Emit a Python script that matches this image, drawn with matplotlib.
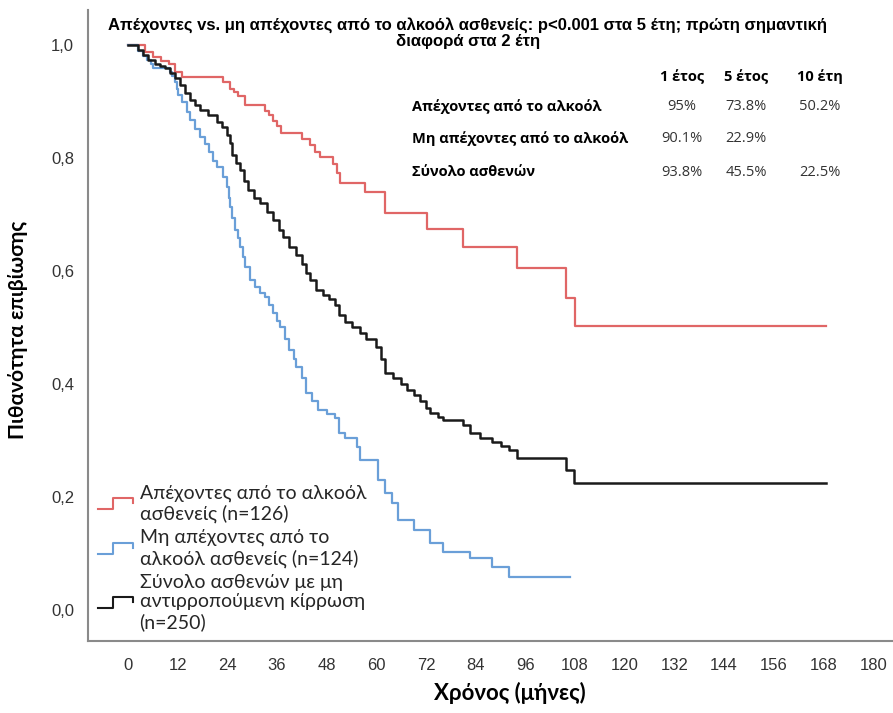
"""
Kaplan-Meier curves: abstainers vs non-abstainers vs all patients.
"""

import matplotlib
matplotlib.use('Agg')
import matplotlib.pyplot as plt
from matplotlib.ticker import FuncFormatter
from matplotlib.legend_handler import HandlerBase
from matplotlib.lines import Line2D

# survival curves (months, survival)
t_abst = [0, 4, 6, 8, 10, 11.4, 13, 23, 24.6, 25.6, 26.6, 28.3, 33, 34, 35,
          36, 37, 42, 44, 45.2, 46.4, 49.5, 50.5, 51.2, 57.3, 62.1, 72.2,
          81, 94, 105.8, 108, 168.5]
s_abst = [1.0, 0.988, 0.979, 0.972, 0.967, 0.953, 0.944, 0.935, 0.923,
          0.916, 0.909, 0.894, 0.884, 0.876, 0.866, 0.856, 0.845, 0.834,
          0.823, 0.811, 0.802, 0.79, 0.773, 0.756, 0.740, 0.702, 0.674,
          0.643, 0.605, 0.553, 0.503, 0.503]

t_nonabst = [0, 2.5, 3.7, 4.5, 5.5, 6.1, 10.1, 10.6, 11.4, 11.8, 12.2, 13,
             14.2, 15, 16.2, 17.4, 18.5, 19.5, 20.5, 21.5, 23, 23.9, 24.3,
             24.6, 25.2, 25.9, 26.5, 27, 27.7, 28.3, 29.5, 30.7, 31.9, 33,
             34, 35, 36, 36.7, 38, 39, 40, 40.7, 42, 43.1, 44.5, 45.8, 48,
             50.1, 51, 52.5, 55.3, 56, 60.4, 62, 63.8, 65.2, 69, 73, 76,
             82.7, 87.9, 92, 106.8]
s_nonabst = [1.0, 0.99, 0.98, 0.973, 0.966, 0.959, 0.952, 0.945, 0.935,
             0.923, 0.912, 0.9, 0.882, 0.867, 0.852, 0.838, 0.825, 0.81,
             0.795, 0.784, 0.766, 0.749, 0.73, 0.713, 0.693, 0.673, 0.658,
             0.643, 0.625, 0.607, 0.584, 0.572, 0.561, 0.554, 0.54, 0.525,
             0.512, 0.5, 0.48, 0.46, 0.445, 0.43, 0.41, 0.384, 0.37, 0.354,
             0.347, 0.34, 0.313, 0.305, 0.289, 0.265, 0.23, 0.207, 0.19,
             0.16, 0.142, 0.118, 0.103, 0.092, 0.076, 0.058, 0.058]

t_all = [0, 2.5, 3.7, 4.9, 6.5, 7.7, 9, 10.1, 11.4, 12.6, 13.8, 15, 16.2,
         17.4, 19.4, 21.4, 22.6, 23.8, 24.6, 25.2, 26, 27, 28, 29, 30.5, 32,
         33.5, 35, 36.5, 37.5, 39, 40.5, 42, 43, 44, 45.5, 47, 48.5, 50, 51,
         52.5, 54, 56, 57.5, 60, 61, 62, 64, 66, 67.5, 69, 70.5, 72, 73, 75,
         76, 81, 82.7, 85, 88, 90, 92, 94, 105.7, 107.8, 168.5]
s_all = [1.0, 0.991, 0.982, 0.973, 0.967, 0.962, 0.959, 0.95, 0.941, 0.929,
         0.915, 0.903, 0.894, 0.885, 0.876, 0.864, 0.855, 0.841, 0.826,
         0.805, 0.792, 0.779, 0.76, 0.743, 0.73, 0.72, 0.705, 0.69, 0.673,
         0.66, 0.643, 0.628, 0.612, 0.596, 0.584, 0.566, 0.558, 0.55, 0.54,
         0.522, 0.51, 0.5, 0.49, 0.48, 0.466, 0.445, 0.42, 0.41, 0.4, 0.389,
         0.38, 0.37, 0.358, 0.348, 0.342, 0.336, 0.327, 0.313, 0.305, 0.297,
         0.29, 0.283, 0.269, 0.248, 0.225, 0.225]

labels = ['Απέχοντες από το αλκοόλ\nασθενείς (n=126)',
          'Μη απέχοντες από το\nαλκοόλ ασθενείς (n=124)',
          'Σύνολο ασθενών με μη\nαντιρροπούμενη κίρρωση\n(n=250)']
colors = ['#e06666', '#6a9fd8', '#1a1a1a']

# summary table
col_heads = ['1 έτος', '5 έτος', '10 έτη']
row_heads = ['Απέχοντες από το αλκοόλ', 'Μη απέχοντες από το αλκοόλ', 'Σύνολο ασθενών']
table_vals = [['95%', '73.8%', '50.2%'],
              ['90.1%', '22.9%', ''],
              ['93.8%', '45.5%', '22.5%']]

narrow = ['Liberation Sans Narrow', 'Liberation Sans', 'DejaVu Sans']
soft = ['Lato', 'DejaVu Sans']
tab = ['Open Sans', 'DejaVu Sans']


class StepHandler(HandlerBase):
    # legend icon drawn as a little step
    def create_artists(self, legend, orig_handle, xdescent, ydescent,
                       width, height, fontsize, trans):
        x0 = -xdescent
        y0 = -ydescent
        xs = [x0, x0 + 0.45 * width, x0 + 0.45 * width, x0 + width, x0 + width]
        ys = [y0 + 0.1 * height, y0 + 0.1 * height, y0 + 0.9 * height,
              y0 + 0.9 * height, y0 + 0.55 * height]
        ln = Line2D(xs, ys, color=orig_handle.get_color(), lw=1.5, transform=trans)
        return [ln]


plt.close('all')
fig = plt.figure(figsize=(8.93, 7.13), dpi=100)
ax = fig.add_axes([88/893, 1 - 641/713, 1 - 88/893, (641 - 10)/713])

l1, = ax.step(t_abst, s_abst, where='post', color=colors[0], lw=1.6)
l2, = ax.step(t_nonabst, s_nonabst, where='post', color=colors[1], lw=1.6)
l3, = ax.step(t_all, s_all, where='post', color=colors[2], lw=1.8)

ax.set_xlim(-9.66, 184.8)
ax.set_ylim(-0.055, 1.062)
ax.set_xticks(range(0, 181, 12))
ax.set_yticks([0, 0.2, 0.4, 0.6, 0.8, 1.0])
ax.yaxis.set_major_formatter(FuncFormatter(lambda v, p: ('%.1f' % v).replace('.', ',')))
ax.tick_params(length=0, labelsize=12, colors='#333333', pad=10)
ax.tick_params(axis='x', pad=12)
for lab in ax.get_xticklabels() + ax.get_yticklabels():
    lab.set_family(narrow)
for s in ['top', 'right']:
    ax.spines[s].set_visible(False)
for s in ['left', 'bottom']:
    ax.spines[s].set_color('#8a8a8a')
    ax.spines[s].set_linewidth(1.5)

leg = ax.legend([l1, l2, l3], labels, loc='lower left', frameon=False,
                handler_map={Line2D: StepHandler()}, handlelength=1.8,
                handletextpad=0.35, labelspacing=0.3, borderaxespad=0.1,
                bbox_to_anchor=(0.0, 0.0),
                prop={'family': soft, 'size': 14})
for txt in leg.get_texts():
    txt.set_color('#262626')
    txt.set_linespacing(1.2)

# title
fig.text(468/893, 1 - 33/713,
         'Απέχοντες vs. μη απέχοντες από το αλκοόλ ασθενείς: p<0.001 στα 5 έτη; πρώτη σημαντική\nδιαφορά στα 2 έτη',
         ha='center', va='center', ma='center', fontsize=12, weight='bold',
         family=narrow, linespacing=1.08)

# table of survival rates
col_x = [682, 746, 820]
for cx, h in zip(col_x, col_heads):
    fig.text(cx/893, 1 - 77/713, h, ha='center', va='center', fontsize=10.5,
             weight='bold', family=tab)
row_y = [107, 139, 172]
for ry, rh, vals in zip(row_y, row_heads, table_vals):
    fig.text(412/893, 1 - ry/713, rh, ha='left', va='center', fontsize=10.5,
             weight='bold', family=tab)
    for cx, v in zip(col_x, vals):
        fig.text(cx/893, 1 - ry/713, v, ha='center', va='center', fontsize=10.5,
                 family=tab, color='#333333')

fig.text(18/893, 1 - 330/713, 'Πιθανότητα επιβίωσης', rotation=90, ha='center',
         va='center', fontsize=15, weight='bold', family=soft)
fig.text(510/893, 1 - 693/713, 'Χρόνος (μήνες)', ha='center', va='center',
         fontsize=16, weight='bold', family=soft)

fig.savefig('out.png', dpi=100)
